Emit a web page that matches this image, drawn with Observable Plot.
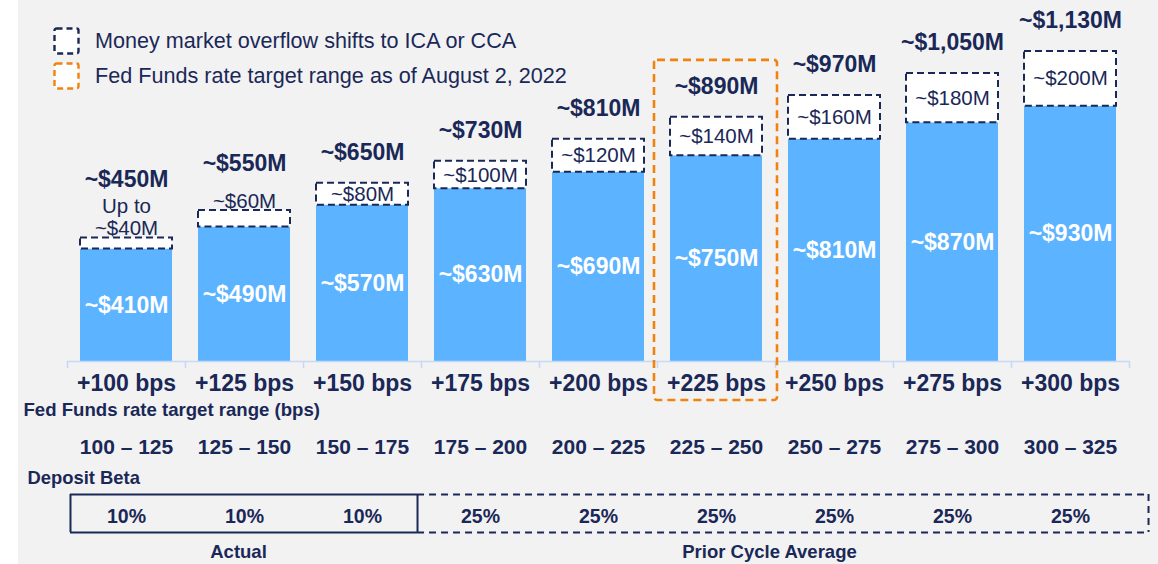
<!DOCTYPE html>
<html>
<head>
<meta charset="utf-8">
<script src="https://cdn.jsdelivr.net/npm/d3@7"></script>
<script src="https://cdn.jsdelivr.net/npm/@observablehq/plot@0.6"></script>
<style>
  html, body { margin: 0; padding: 0; background: #ffffff; }
  #wrap { position: relative; width: 1158px; height: 564px; background: #f2f2f2; overflow: hidden;
          font-family: "Liberation Sans", Arial, Helvetica, sans-serif; }
  #strip { position: absolute; left: 0; top: 0; width: 18px; height: 564px; background: #ffffff; }
  #chart { position: absolute; left: 0; top: 0; }
  #legend { position: absolute; left: 53px; top: 27px; color: #1a2857; font-size: 21.6px; }
  .item { position: absolute; left: 0; white-space: nowrap; height: 28px; }
  .item svg { position: absolute; left: 0; top: 0; }
  .item span { position: absolute; left: 42px; top: 2px; line-height: 24px; }
</style>
</head>
<body>
<div id="wrap">
  <div id="strip"></div>
  <div id="chart"></div>
  <div id="legend"></div>
</div>
<script>
// ---------- data ----------
const categories = ["+100 bps", "+125 bps", "+150 bps", "+175 bps", "+200 bps", "+225 bps", "+250 bps", "+275 bps", "+300 bps"];
const baseValues = [410, 490, 570, 630, 690, 750, 810, 870, 930];
const overflowValues = [40, 60, 80, 100, 120, 140, 160, 180, 200];
const overflowLabels = ["Up to\n~$40M", "~$60M", "~$80M", "~$100M", "~$120M", "~$140M", "~$160M", "~$180M", "~$200M"];
const rangeLabels = ["100 \u2013 125", "125 \u2013 150", "150 \u2013 175", "175 \u2013 200", "200 \u2013 225", "225 \u2013 250", "250 \u2013 275", "275 \u2013 300", "300 \u2013 325"];
const betaValues = ["10%", "10%", "10%", "25%", "25%", "25%", "25%", "25%", "25%"];
const betaGroups = [
  {label: "Actual", from: "+100 bps", to: "+150 bps", dashed: false},
  {label: "Prior Cycle Average", from: "+175 bps", to: "+300 bps", dashed: true}
];
const highlightCategory = "+225 bps";
const legendItems = [
  {label: "Money market overflow shifts to ICA or CCA", color: "#1a2857"},
  {label: "Fed Funds rate target range as of August 2, 2022", color: "#f0820f"}
];

// ---------- style ----------
const NAVY = "#1a2857", BLUE = "#5cb3ff", ORANGE = "#f0820f", AXIS = "#c5d8f4";
const FONT = "Liberation Sans, Arial, Helvetica, sans-serif";
const W = 1158, H = 564;
const marginLeft = 67, marginRight = 29, marginTop = 51, marginBottom = 203;
const paddingInner = 0.22, paddingOuter = 0.11;
const step = (W - marginLeft - marginRight) / (categories.length - paddingInner + 2 * paddingOuter);
const bw = step * (1 - paddingInner);

const rows = categories.map((c, i) => ({
  cat: c,
  base: baseValues[i],
  over: overflowValues[i],
  total: baseValues[i] + overflowValues[i],
  overLabel: overflowLabels[i],
  lines: overflowLabels[i].split("\n").length,
  inside: overflowValues[i] >= 80,
  range: rangeLabels[i],
  beta: betaValues[i]
}));
const fmt = d3.format(",");
const zero = () => 0;

// deposit-beta table edges
const tableMarks = [];
betaGroups.forEach((g, gi) => {
  const stroke = {stroke: NAVY, strokeWidth: 2, strokeDasharray: g.dashed ? "7 5" : null};
  const insetLeft = gi === 0 ? -10 : -(step - bw) + 9;
  const insetRight = gi === 0 ? -9 : -32;
  for (const dy of [133, 171]) {
    tableMarks.push(Plot.ruleY([g], {x1: "from", x2: "to", y: zero, dy, insetLeft, insetRight, ...stroke}));
  }
  if (gi === 0) {
    tableMarks.push(Plot.ruleX([g], {x: "from", y1: zero, y2: zero, dx: -(bw / 2 + 10), dy: 133, insetBottom: -38, stroke: NAVY, strokeWidth: 2}));
    tableMarks.push(Plot.ruleX([g], {x: "to", y1: zero, y2: zero, dx: bw / 2 + 9, dy: 133, insetBottom: -38, stroke: NAVY, strokeWidth: 2}));
  } else {
    tableMarks.push(Plot.ruleX([g], {x: "to", y1: zero, y2: zero, dx: bw / 2 + 32, dy: 133, insetBottom: -38, ...stroke}));
  }
  const i0 = categories.indexOf(g.from), i1 = categories.indexOf(g.to);
  const mid = categories[Math.floor((i0 + i1) / 2)];
  const off = ((i0 + i1) % 2) ? step / 2 : 0;
  tableMarks.push(Plot.text([g], {x: () => mid, y: zero, text: "label", dx: off - 6, dy: 191,
    fill: NAVY, fontSize: 18.5, fontWeight: "bold"}));
});

const totalText = d => `~$${fmt(d.total)}M`;

const chart = Plot.plot({
  width: W, height: H,
  marginLeft, marginRight, marginTop, marginBottom,
  style: {background: "transparent", fontFamily: FONT, overflow: "visible"},
  x: {type: "band", domain: categories, paddingInner, paddingOuter, axis: null},
  y: {domain: [0, 1130], axis: null},
  marks: [
    // solid base bars
    Plot.barY(rows, {x: "cat", y1: 0, y2: "base", fill: BLUE}),
    // dashed overflow boxes
    Plot.barY(rows, {x: "cat", y1: "base", y2: "total", fill: "white", stroke: NAVY, strokeWidth: 2, strokeDasharray: "7 4"}),
    // base labels
    Plot.text(rows, {x: "cat", y: d => d.base / 2, text: d => `~$${fmt(d.base)}M`, fill: "white", fontSize: 23, fontWeight: "bold"}),
    // overflow labels inside the box
    Plot.text(rows.filter(d => d.inside), {x: "cat", y: d => (d.base + d.total) / 2, text: "overLabel", fill: NAVY, fontSize: 20.5}),
    // overflow labels above small boxes
    Plot.text(rows.filter(d => !d.inside), {x: "cat", y: "total", text: "overLabel", fill: NAVY, fontSize: 20.5,
      lineAnchor: "bottom", lineHeight: 1.08, dy: -3}),
    // total labels
    Plot.text(rows.filter(d => d.inside), {x: "cat", y: "total", text: totalText, fill: NAVY, fontSize: 23, fontWeight: "bold", dy: -31}),
    ...rows.filter(d => !d.inside).map(d => Plot.text([d], {x: "cat", y: "total", text: totalText, fill: NAVY, fontSize: 23, fontWeight: "bold",
      dy: d.lines > 1 ? -58 : -47})),
    // baseline and band separators
    Plot.ruleY([0], {stroke: AXIS, strokeWidth: 1.5}),
    Plot.ruleX(categories, {x: d => d, y1: zero, y2: zero, dx: -step / 2, insetBottom: -7, stroke: AXIS, strokeWidth: 1.5}),
    Plot.ruleX(categories.slice(-1), {x: d => d, y1: zero, y2: zero, dx: step / 2, insetBottom: -7, stroke: AXIS, strokeWidth: 1.5}),
    // category labels
    Plot.text(categories, {x: d => d, y: zero, text: d => d, dy: 22, fill: NAVY, fontSize: 23, fontWeight: "bold"}),
    // highlight box
    Plot.barY(rows.filter(d => d.cat === highlightCategory), {x: "cat", y1: 0, y2: "total",
      insetTop: -57, insetBottom: -39, insetLeft: -16, insetRight: -15, rx: 3,
      fill: "none", stroke: ORANGE, strokeWidth: 2.6, strokeDasharray: "8 5"}),
    // rate range row
    Plot.text(["Fed Funds rate target range (bps)"], {frameAnchor: "bottom-left", text: d => d, textAnchor: "start",
      dx: -44, dy: 54, fill: NAVY, fontSize: 18.6, fontWeight: "bold"}),
    Plot.text(rows, {x: "cat", y: zero, text: "range", dy: 86, fill: NAVY, fontSize: 21, fontWeight: "bold"}),
    // deposit beta table
    Plot.text(["Deposit Beta"], {frameAnchor: "bottom-left", text: d => d, textAnchor: "start",
      dx: -40, dy: 122, fill: NAVY, fontSize: 18.4, fontWeight: "bold"}),
    Plot.text(rows, {x: "cat", y: zero, text: "beta", dy: 155, fill: NAVY, fontSize: 19.5, fontWeight: "bold"}),
    ...tableMarks
  ]
});
document.getElementById("chart").appendChild(chart);

// legend
const legend = document.getElementById("legend");
legendItems.forEach((it, i) => {
  const div = document.createElement("div");
  div.className = "item";
  div.style.top = (i * 35) + "px";
  div.innerHTML = `<svg width="28" height="30"><rect x="1.5" y="1.5" width="24" height="25" rx="2" fill="white" stroke="${it.color}" stroke-width="2.4" stroke-dasharray="6 4"/></svg><span>${it.label}</span>`;
  legend.appendChild(div);
});
</script>
</body>
</html>
